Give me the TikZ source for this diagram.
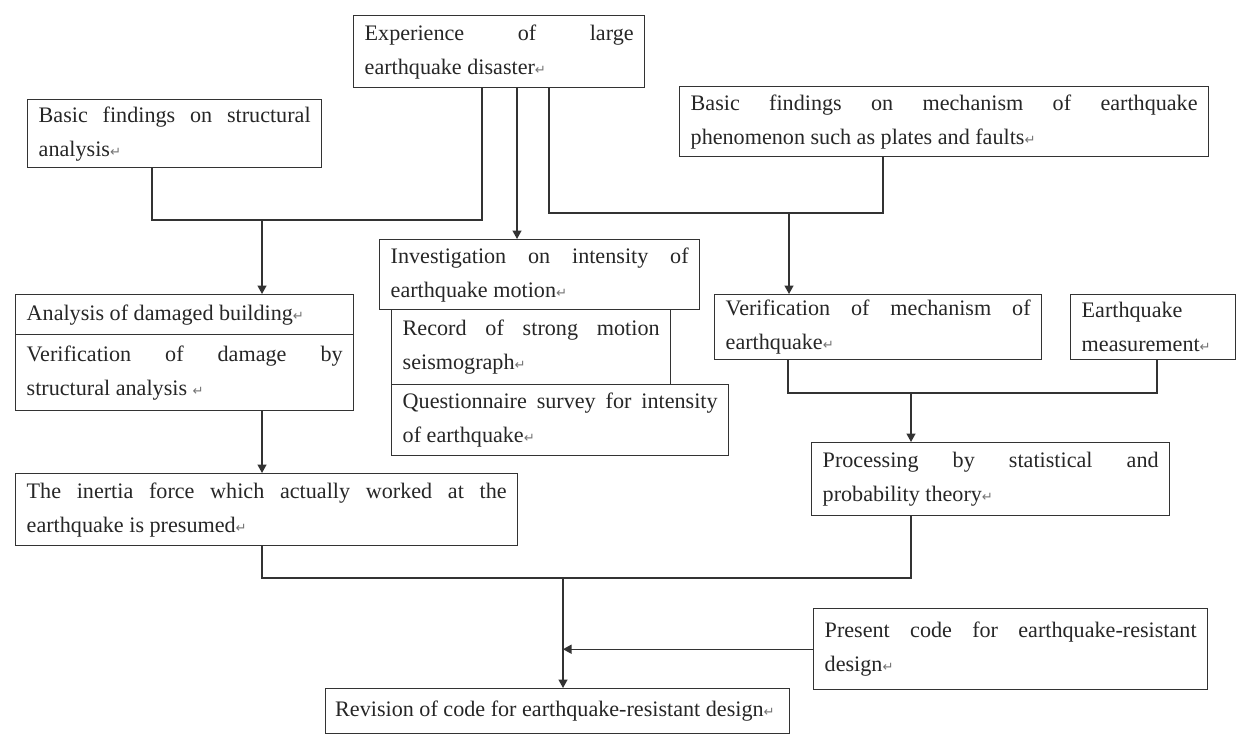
\documentclass[tikz,border=0pt]{standalone}
\usepackage{fontspec}
\setmainfont{Liberation Serif}
\newfontfamily\symfont{DejaVu Sans}
\usetikzlibrary{arrows.meta}

\newcommand\spread[1]{\makebox[\hsize][s]{\spaceskip=0.25em plus 1fil\relax #1}}
\newcommand\pmark{{\symfont\fontsize{7.5}{7.5}\selectfont\textcolor{black!55}{↵}}}

\tikzset{
  box/.style={draw=black!80, line width=0.8pt, anchor=north west, inner xsep=0.22cm, inner ysep=0pt,
    align=left, text=black!85, font=\fontsize{12.6}{19.4}\selectfont,
    execute at begin node={\spaceskip=0pt\xspaceskip=0pt}},
  link/.style={draw=black!80, line width=0.8pt},
  arr/.style={link, -{Triangle[length=0.17cm,width=0.18cm]}}
}

\begin{document}
\begin{tikzpicture}[x=0.02cm,y=-0.02cm]
\useasboundingbox (0,0) rectangle (1237,737);

\node[box,text width=5.38cm,minimum height=1.44cm] (exp) at (353,15) {\spread{Experience of large}\\earthquake disaster\pmark};
\node[box,text width=5.44cm,minimum height=1.36cm] (bfs) at (27,99) {\spread{Basic findings on structural}\\analysis\pmark};
\node[box,text width=10.14cm,minimum height=1.40cm] (bfm) at (679,86) {\spread{Basic findings on mechanism of earthquake}\\phenomenon such as plates and faults\pmark};
\node[box,text width=5.96cm,minimum height=1.40cm] (inv) at (379,239) {\spread{Investigation on intensity of}\\earthquake motion\pmark};
\node[box,text width=6.32cm,minimum height=0.80cm] (ana) at (15,294) {Analysis of damaged building\pmark};
\node[box,text width=6.32cm,minimum height=1.52cm] (ver) at (15,334) {\spread{Verification of damage by}\\structural analysis \pmark};
\node[box,text width=5.14cm,minimum height=1.50cm] (rec) at (391,309) {\spread{Record of strong motion}\\seismograph\pmark};
\node[box,text width=6.30cm,minimum height=1.42cm] (que) at (391,384) {\spread{Questionnaire survey for intensity}\\of earthquake\pmark};
\node[box,text width=6.10cm,minimum height=1.30cm] (vmech) at (714,294) {\spread{Verification of mechanism of}\\earthquake\pmark};
\node[box,text width=2.86cm,minimum height=1.30cm] (meas) at (1070,294) {Earthquake\\measurement\pmark};
\node[box,text width=6.72cm,minimum height=1.46cm] (proc) at (811,442) {\spread{Processing by statistical and}\\probability theory\pmark};
\node[box,text width=9.60cm,minimum height=1.44cm] (inertia) at (15,473) {\spread{The inertia force which actually worked at the}\\earthquake is presumed\pmark};
\node[box,text width=7.44cm,minimum height=1.62cm] (present) at (813,608) {\spread{Present code for earthquake-resistant}\\design\pmark};
\node[box,text width=8.90cm,inner xsep=0.19cm,minimum height=0.90cm] (rev) at (325,688) {Revision of code for earthquake-resistant design\pmark};

\coordinate (jA) at (262,220);
\coordinate (jB) at (789,213);
\coordinate (jC) at (911,393);
\coordinate (jD) at (563,578);

\draw[link] (152,0 |- bfs.south) |- (jA) -| (482,0 |- exp.south);
\draw[arr] (jA) -- (jA |- ana.north);
\draw[arr] (517,0 |- exp.south) -- (517,0 |- inv.north);
\draw[link] (549,0 |- exp.south) |- (jB) -| (883,0 |- bfm.south);
\draw[arr] (jB) -- (jB |- vmech.north);
\draw[arr] (jA |- ver.south) -- (jA |- inertia.north);
\draw[link] (788,0 |- vmech.south) |- (jC) -| (1157,0 |- meas.south);
\draw[arr] (jC) -- (jC |- proc.north);
\draw[link] (jA |- inertia.south) |- (jD) -| (jC |- proc.south);
\draw[arr] (jD) -- (jD |- rev.north);
\draw[arr] (present.west) -- (present.west -| jD);

\end{tikzpicture}
\end{document}
